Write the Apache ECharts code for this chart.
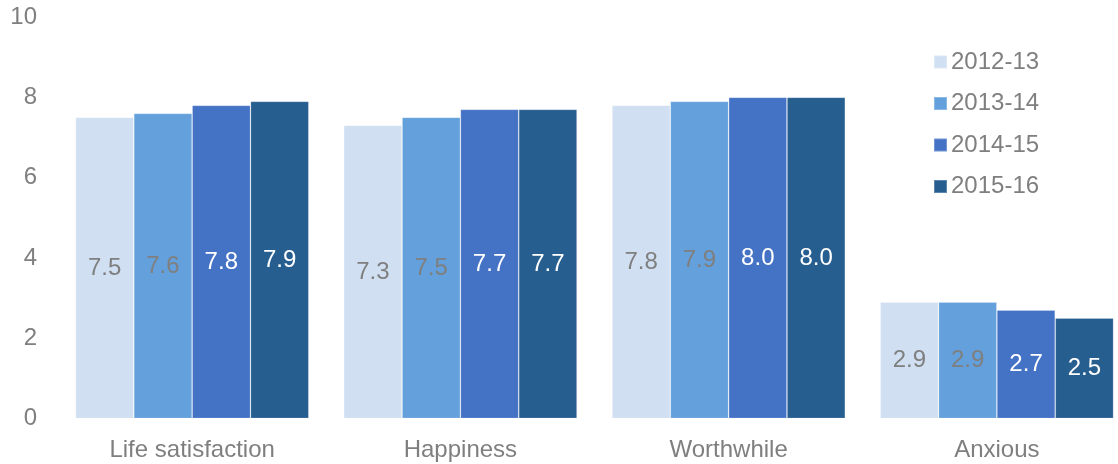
<!DOCTYPE html>
<html>
<head>
<meta charset="utf-8">
<script src="https://cdn.jsdelivr.net/npm/echarts@6/dist/echarts.min.js"></script>
<style>
  html, body { margin: 0; padding: 0; background: #fff; width: 1118px; height: 464px; overflow: hidden; }
  /* the plot runs a little past the right edge of the page, so the canvas is wider and clipped */
  #chart { width: 1131px; height: 464px; }
</style>
</head>
<body>
<div id="chart"></div>
<script>
// Wellbeing measures, mean scores out of 10
const categories = ['Life satisfaction', 'Happiness', 'Worthwhile', 'Anxious'];
const years = ['2012-13', '2013-14', '2014-15', '2015-16'];
const values2012 = [7.5, 7.3, 7.8, 2.9];
const values2013 = [7.6, 7.5, 7.9, 2.9];
const values2014 = [7.8, 7.7, 8.0, 2.7];
const values2015 = [7.9, 7.7, 8.0, 2.5];
const yTicks = [0, 2, 4, 6, 8, 10];

const seriesValues = [values2012, values2013, values2014, values2015];
const barColors = ['#d0e0f2', '#63a0dc', '#4472c4', '#265e90'];
const labelColors = ['#7f7f7f', '#7f7f7f', '#ffffff', '#ffffff'];
const FONT = 'Liberation Sans, Arial, sans-serif';
const FS = 24;

const chart = echarts.init(document.getElementById('chart'), null, { renderer: 'canvas' });

chart.setOption({
  animation: false,
  backgroundColor: '#ffffff',
  grid: { left: 58, top: 17, right: 0, bottom: 45.5, containLabel: false },
  legend: {
    orient: 'vertical',
    left: 933,
    top: 50,
    padding: 0,
    itemWidth: 13,
    itemHeight: 13,
    itemGap: 17.5,
    icon: 'rect',
    data: years,
    textStyle: { color: '#7f7f7f', fontSize: FS, fontFamily: FONT, padding: [0, 0, 0, -1] }
  },
  xAxis: {
    type: 'category',
    data: categories,
    axisLine: { show: false },
    axisTick: { show: false },
    axisLabel: { color: '#7f7f7f', fontSize: FS, fontFamily: FONT, margin: 20 }
  },
  yAxis: {
    type: 'value',
    min: yTicks[0],
    max: yTicks[yTicks.length - 1],
    interval: yTicks[1] - yTicks[0],
    splitLine: { show: false },
    axisLine: { show: false },
    axisTick: { show: false },
    axisLabel: { color: '#7f7f7f', fontSize: FS, fontFamily: FONT, margin: 21, padding: [3, 0, 0, 0] }
  },
  series: years.map((year, i) => ({
    name: year,
    type: 'bar',
    data: seriesValues[i],
    barGap: '0%',
    barCategoryGap: '13%',
    itemStyle: {
      color: barColors[i],
      borderColor: 'rgba(255,255,255,0.25)',
      borderWidth: 0.8
    },
    label: {
      show: true,
      position: 'inside',
      color: labelColors[i],
      fontSize: FS,
      fontFamily: FONT,
      formatter: p => p.value.toFixed(1)
    }
  }))
});
</script>
</body>
</html>
